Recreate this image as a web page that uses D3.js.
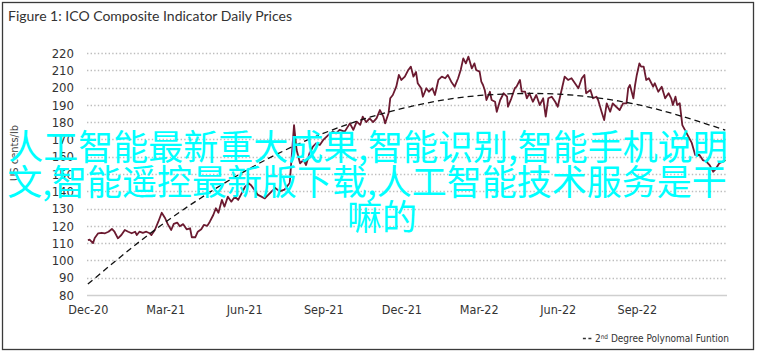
<!DOCTYPE html>
<html><head><meta charset="utf-8">
<script src="https://cdn.jsdelivr.net/npm/d3@7"></script>
<style>
html,body{margin:0;padding:0;background:#fff;}
svg{display:block;}
.cond{font-family:"Liberation Sans Narrow","DejaVu Sans Condensed","Roboto Condensed","Arial Narrow","Liberation Sans",sans-serif;}
</style></head>
<body>
<svg id="c" width="762" height="356"></svg>
<script>
const title = "Figure 1: ICO Composite Indicator Daily Prices";
const yTitle = "US cents/lb";
const legendLabel = "2nd Degree Polynomal Funtion";
const overlayLines = ["人工智能最新重大成果,智能识别,智能手机说明","文,智能遥控最新版下载,人工智能技术服务是干","嘛的"];

const yTicks = [80,90,100,110,120,130,140,150,160,170,180,190,200,210,220];
const xTickDates = ["2020-12-01","2021-03-01","2021-06-01","2021-09-01","2021-12-01","2022-03-01","2022-06-01","2022-09-01"];
const xTickLabels = ["Dec-20","Mar-21","Jun-21","Sep-21","Dec-21","Mar-22","Jun-22","Sep-22"];

const dates = ["2020-12-01","2020-12-03","2020-12-07","2020-12-09","2020-12-13","2020-12-17","2020-12-21","2020-12-25","2020-12-29",
"2021-01-01","2021-01-05","2021-01-09","2021-01-13","2021-01-17","2021-01-21","2021-01-25","2021-01-27","2021-01-30",
"2021-02-03","2021-02-07","2021-02-11","2021-02-13","2021-02-17","2021-02-21","2021-02-25",
"2021-03-01","2021-03-04","2021-03-08","2021-03-11","2021-03-15","2021-03-18","2021-03-22","2021-03-26","2021-03-30",
"2021-04-01","2021-04-05","2021-04-08","2021-04-12","2021-04-15","2021-04-19","2021-04-22","2021-04-26","2021-04-29",
"2021-05-02","2021-05-06","2021-05-09","2021-05-13","2021-05-17","2021-05-21","2021-05-25","2021-05-29",
"2021-06-02","2021-06-06","2021-06-09","2021-06-13","2021-06-17","2021-06-21","2021-06-25",
"2021-07-01","2021-07-07","2021-07-12","2021-07-18","2021-07-24","2021-07-29",
"2021-08-01","2021-08-05","2021-08-09","2021-08-12","2021-08-16","2021-08-20","2021-08-24","2021-08-28",
"2021-09-01","2021-09-05","2021-09-09","2021-09-12","2021-09-16","2021-09-20","2021-09-26",
"2021-10-02","2021-10-06","2021-10-10","2021-10-14","2021-10-17","2021-10-21","2021-10-25","2021-10-29",
"2021-11-02","2021-11-06","2021-11-10","2021-11-12","2021-11-16","2021-11-18","2021-11-21","2021-11-25","2021-11-28",
"2021-12-01","2021-12-05","2021-12-09","2021-12-12","2021-12-15","2021-12-18","2021-12-20","2021-12-24","2021-12-26","2021-12-30",
"2022-01-02","2022-01-06","2022-01-09","2022-01-13","2022-01-17","2022-01-21","2022-01-24","2022-01-28",
"2022-02-01","2022-02-05","2022-02-08","2022-02-11","2022-02-14","2022-02-17","2022-02-21","2022-02-24","2022-02-26",
"2022-03-02","2022-03-04","2022-03-06","2022-03-08","2022-03-10","2022-03-14","2022-03-16","2022-03-20","2022-03-22","2022-03-26","2022-03-30",
"2022-04-03","2022-04-04","2022-04-08","2022-04-12","2022-04-14","2022-04-18","2022-04-20","2022-04-24","2022-04-26","2022-04-29",
"2022-05-03","2022-05-07","2022-05-11","2022-05-15","2022-05-18","2022-05-21","2022-05-25","2022-05-29",
"2022-06-01","2022-06-05","2022-06-09","2022-06-13","2022-06-17","2022-06-21","2022-06-25","2022-06-29",
"2022-07-02","2022-07-04","2022-07-09","2022-07-12","2022-07-16","2022-07-18","2022-07-22","2022-07-25","2022-07-28",
"2022-08-01","2022-08-04","2022-08-08","2022-08-12","2022-08-16","2022-08-20","2022-08-22","2022-08-24","2022-08-28","2022-08-30",
"2022-09-01","2022-09-04","2022-09-06","2022-09-09","2022-09-12","2022-09-15","2022-09-20","2022-09-22","2022-09-26","2022-09-30",
"2022-10-04","2022-10-08","2022-10-11","2022-10-13","2022-10-16","2022-10-18","2022-10-21","2022-10-24","2022-10-27","2022-10-30",
"2022-11-04","2022-11-08","2022-11-13","2022-11-17","2022-11-21","2022-11-25","2022-11-29",
"2022-12-02","2022-12-06","2022-12-10","2022-12-13"];

const prices = [111.8,112,110,113,115.7,116,115.7,116.6,118.2,
116.6,112.8,114.7,117.6,116.6,115.7,116.6,114.7,116.6,
116,116.6,115.7,114.7,117.6,122.4,127.6,
124.4,121,117.6,121.1,121.9,119.8,121,118,118.6,
113.4,113.4,116.6,118,120.5,120,122.4,126.3,130.2,
127.6,135,131.1,136.9,134,136.9,135,138.8,
142.6,144.6,143.5,140.7,137.9,136.9,135.9,
139,142,140,141,144.8,178.3,
163.9,156.2,158.1,155.2,162,165.8,167.8,166.8,
169.7,171.6,173.5,174.5,173.5,175.5,174.5,
179.3,175.5,180.3,178.4,183.2,180,182.2,180,
182.2,187,183.2,179.3,185.1,193.8,195.7,200.5,207.3,
204.4,206.3,210.2,212.1,206.3,209,202.5,199.6,194.7,199.6,
197.6,199.6,195.7,204.4,206.3,205.4,207.3,203.4,
200.5,205.4,210.2,216.9,214,217.9,211.1,214,210.2,
209.2,203.4,201.5,198.6,192.8,197.6,192.8,191.8,186,192.8,196.7,
194.7,188.9,193.8,199.6,200.5,204.4,197.6,197.6,193.8,196.7,
191.8,195.7,189.9,193.8,183.2,193.8,194.7,191.8,
188.9,197.6,206.3,204.4,205.4,202.5,199.6,205.4,
207.3,196.7,198.6,193.8,194.7,192.8,186,181.2,190.9,
186,190.9,188.9,187,190.9,190.9,199.6,201.5,193.8,201.5,
207.3,214,212.1,212.1,204.4,205.4,200.5,202.5,197.6,200.5,
193.8,196.7,193.8,189.9,194.7,189.9,190.9,178.3,175.5,172.6,
168,161,161,158,157.1,155,151.3,
153,156.2,157.1,158.1];

const trendDates = ["2020-12-01","2021-02-01","2021-04-01","2021-06-01","2021-08-01","2021-10-01","2021-12-01","2022-02-01","2022-04-01","2022-06-01","2022-08-01","2022-10-01","2022-12-13"];
const trendValues = [86.3,111.6,132.7,151.4,166.9,179,187.8,193.8,196.3,196.2,193,186.6,175.4];

const parse = d3.timeParse("%Y-%m-%d");
const svg = d3.select("#c");
const x = d3.scaleTime().domain([new Date(2020,10,30), new Date(2022,11,15)]).range([87,727]);
const y = d3.scaleLinear().domain([80,220]).range([295,53]);

// frame
svg.append("rect").attr("x",2.5).attr("y",2.5).attr("width",751).attr("height",347)
  .attr("fill","none").attr("stroke","#3a3a3a").attr("stroke-width",1.3);

// title
svg.append("text").attr("x",8).attr("y",21).attr("font-family","Lato, 'Open Sans', sans-serif")
  .attr("font-size",14).attr("fill","#333").text(title);

// gridlines
const g = svg.append("g");
g.selectAll("line.grid").data(yTicks).join("line")
  .attr("x1",87).attr("x2",727).attr("y1",d=>Math.round(y(d))+0.5).attr("y2",d=>Math.round(y(d))+0.5)
  .attr("stroke",d=>d===80?"#cfcfcf":"#bdbdbd")
  .attr("stroke-width",d=>d===80?1.5:1.3)
  .attr("stroke-dasharray",d=>d===80?null:"1.4,2.2");

// y labels
const yAxis = d3.axisLeft(y).tickValues(yTicks).tickSize(0).tickPadding(0);
const ya = svg.append("g").attr("transform","translate(74,0)").call(yAxis);
ya.select(".domain").remove();
ya.selectAll("text").attr("class","cond").attr("font-size",13).attr("fill","#333");

// x labels
const xAxis = d3.axisBottom(x).tickValues(xTickDates.map(parse)).tickFormat((d,i)=>xTickLabels[i]).tickSize(0).tickPadding(0);
const xa = svg.append("g").attr("transform","translate(0,305)").call(xAxis);
xa.select(".domain").remove();
xa.selectAll("text").attr("class","cond").attr("font-size",12.5).attr("fill","#333").attr("dy","0.71em");

// y title
svg.append("text").attr("class","cond").attr("transform","translate(18,153) rotate(-90)")
  .attr("text-anchor","middle").attr("font-size",11).attr("fill","#444").text(yTitle);

// price line
const line = d3.line().x((d,i)=>x(parse(dates[i]))).y(d=>y(d));
svg.append("path").datum(prices).attr("d",line).attr("fill","none")
  .attr("stroke","#6b1a30").attr("stroke-width",1.8).attr("stroke-linejoin","round");

// trend
const tline = d3.line().x((d,i)=>x(parse(trendDates[i]))).y(d=>y(d)).curve(d3.curveNatural);
svg.append("path").datum(trendValues).attr("d",tline).attr("fill","none")
  .attr("stroke","#111").attr("stroke-width",1.3).attr("stroke-dasharray","6,4");

// legend
const lg = svg.append("g");
const lt = lg.append("text").attr("class","cond").attr("x",729).attr("y",342)
  .attr("text-anchor","end").attr("font-size",10).attr("fill","#333");
lt.append("tspan").text("2");
lt.append("tspan").attr("font-size",6.5).attr("dy",-3.5).text("nd");
lt.append("tspan").attr("dy",3.5).text(" Degree Polynomal Funtion");
const lw = lt.node().getComputedTextLength();
lg.append("line").attr("x1",729-lw-12).attr("x2",729-lw-3).attr("y1",338.5).attr("y2",338.5)
  .attr("stroke","#333").attr("stroke-width",1.5).attr("stroke-dasharray","3,2.5");

// overlay text
const ov = svg.append("g").attr("font-family","'Noto Sans CJK SC', sans-serif").attr("font-size",35)
  .attr("fill","#00ffff").attr("text-anchor","middle");
const ovX = [368,367,382], ovY = [159.5,194.5,229.5];
ov.selectAll("text").data(overlayLines).join("text")
  .attr("x",(d,i)=>ovX[i]).attr("y",(d,i)=>ovY[i]).text(d=>d);
</script>
</body></html>
